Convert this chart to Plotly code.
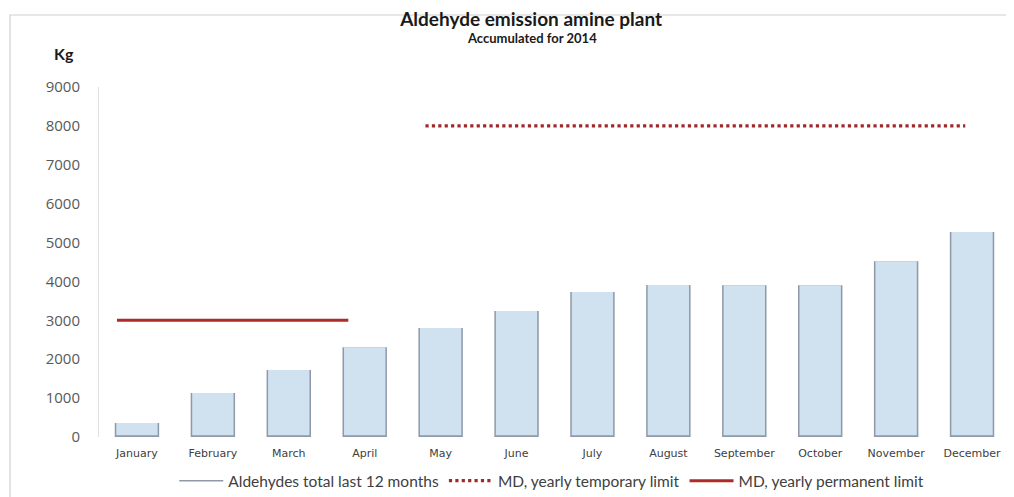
import plotly.graph_objects as go

months = ["January", "February", "March", "April", "May", "June", "July",
          "August", "September", "October", "November", "December"]
aldehydes_total = [360, 1130, 1720, 2310, 2800, 3240, 3730, 3910, 3900, 3900, 4520, 5270]
temporary_limit = [None, None, None, None, 8000, 8000, 8000, 8000, 8000, 8000, 8000, 8000]
permanent_limit = [3000, 3000, 3000, 3000, None, None, None, None, None, None, None, None]
y_ticks = [0, 1000, 2000, 3000, 4000, 5000, 6000, 7000, 8000, 9000]

idx = list(range(len(months)))
FONT = "Lato, 'Open Sans', sans-serif"
base_offset = 45
OUTLINE = "#8f99a8"

fig = go.Figure()
# grey "glass" outline (side walls + bottom)
fig.add_trace(go.Bar(
    x=idx, y=aldehydes_total, width=0.585, marker=dict(color=OUTLINE, line=dict(width=0)),
    showlegend=False, hoverinfo="skip"))
# light blue fill
fig.add_trace(go.Bar(
    x=idx, y=[v - base_offset for v in aldehydes_total], base=base_offset, width=0.545,
    marker=dict(color="#d0e1ef", line=dict(width=0)),
    name="Aldehydes total last 12 months", showlegend=False))
# legend proxy for the bar series (thin grey outline)
fig.add_trace(go.Scatter(
    x=[None], y=[None], mode="lines", line=dict(color=OUTLINE, width=1.5),
    name="Aldehydes total last 12 months"))
fig.add_trace(go.Scatter(
    x=idx, y=temporary_limit, xaxis="x2", mode="lines",
    line=dict(color="#9e2a2a", width=3.2, dash="dot"),
    name="MD, yearly temporary limit", connectgaps=False))
fig.add_trace(go.Scatter(
    x=idx, y=permanent_limit, xaxis="x2", mode="lines",
    line=dict(color="#b02a2a", width=3),
    name="MD, yearly permanent limit", connectgaps=False))

fig.update_layout(
    width=1006, height=489,
    margin=dict(l=91, r=4, t=79, b=60, autoexpand=False),
    paper_bgcolor="white", plot_bgcolor="white",
    barmode="overlay",
    font=dict(family=FONT, color="#404040"),
    title=dict(text="<b>Aldehyde emission amine plant</b>", x=0.520, xanchor="center",
               y=0.977, yanchor="middle", font=dict(size=19, color="#1a1a1a", family=FONT)),
    xaxis=dict(range=[-0.5, 11.5], tickmode="array", tickvals=idx, ticktext=months,
               showgrid=False, zeroline=False, showline=False, ticks="",
               ticklabelstandoff=8,
               tickfont=dict(size=11, color="#404040", family="DejaVu Sans")),
    xaxis2=dict(overlaying="x", range=[-0.233, 11.58], visible=False),
    yaxis=dict(range=[0, 9000], tickvals=y_ticks, showgrid=False, zeroline=False,
               showline=True, linecolor="#e0e0e0", linewidth=1, ticks="",
               ticklabelstandoff=15,
               tickfont=dict(size=15, color="#595959", family="'Open Sans', sans-serif")),
    legend=dict(orientation="h", x=0.497, xanchor="center", y=-0.126, yanchor="middle",
                font=dict(size=15.5, color="#404040"), itemwidth=44, tracegroupgap=0,
                bgcolor="rgba(0,0,0,0)"),
    annotations=[
        dict(text="<b>Accumulated for 2014</b>", xref="paper", yref="paper",
             x=0.475, y=1.14, xanchor="center", yanchor="middle", showarrow=False,
             font=dict(size=13, color="#1a1a1a")),
        dict(text="<b>Kg</b>", xref="paper", yref="paper", x=-0.025, y=1.097,
             xanchor="right", yanchor="middle", showarrow=False,
             font=dict(size=16, color="#1a1a1a")),
    ],
    shapes=[
        dict(type="rect", xref="paper", yref="paper", x0=-0.0977, x1=1.02, y0=-0.3, y1=1.2057,
             line=dict(color="#d0d0d0", width=1.2), fillcolor="rgba(0,0,0,0)", layer="below"),
    ],
)

fig.write_html("out.html")
